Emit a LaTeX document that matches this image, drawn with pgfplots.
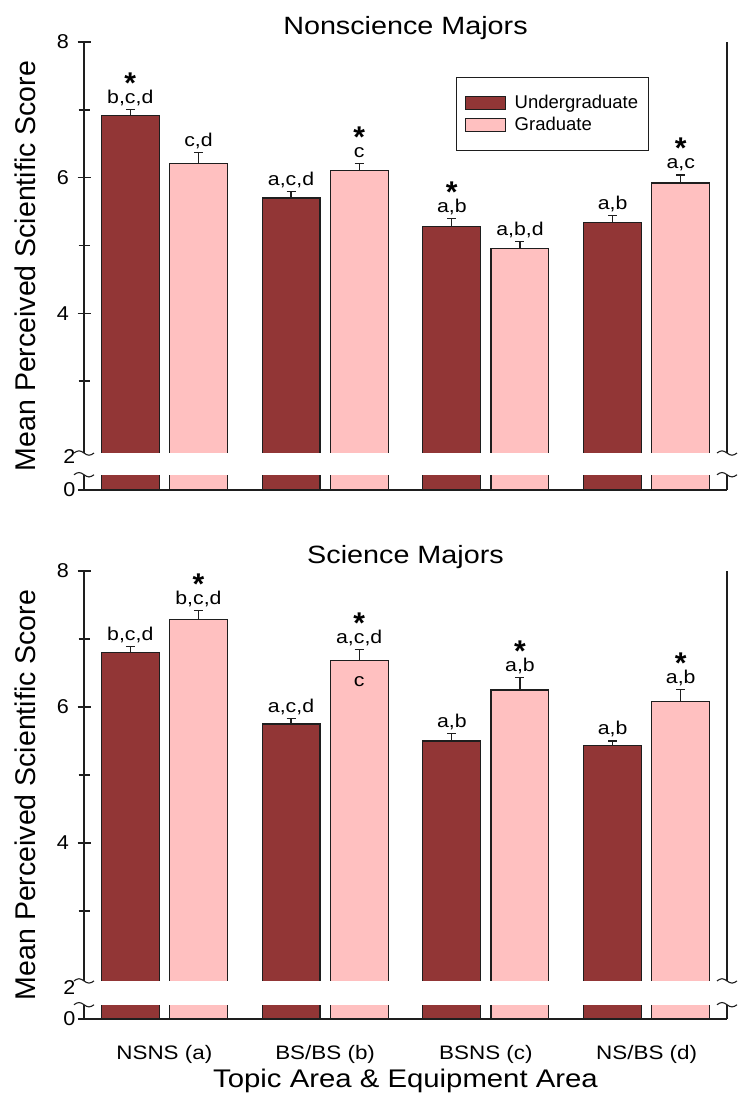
\documentclass[border=0pt]{standalone}
\usepackage{fontspec}
\setmainfont{Liberation Sans}
\newfontfamily\wfa{Liberation Sans}[FakeStretch=1.15]
\newfontfamily\wfb{Liberation Sans}[FakeStretch=1.08]
\usepackage{pgfplots}
\usepackage{pgfplotstable}
\pgfplotsset{compat=1.18}
\definecolor{ucol}{RGB}{146,54,54}
\definecolor{gcol}{RGB}{255,192,192}
\definecolor{edge}{RGB}{30,30,30}

\pgfplotstableread{
x U Ue G Ge Ul Gl
0 6.92 0.09 6.21 0.16 b,c,d c,d
1 5.70 0.10 6.11 0.10 a,c,d c
2 5.28 0.12 4.96 0.10 a,b a,b,d
3 5.34 0.10 5.92 0.12 a,b a,c
}\topdata
\pgfplotstableread{
x U Ue G Ge Ul Gl
0 6.80 0.09 7.29 0.13 b,c,d b,c,d
1 5.75 0.08 6.68 0.16 a,c,d a,c,d
2 5.50 0.11 6.25 0.18 a,b a,b
3 5.43 0.07 6.08 0.18 a,b a,b
}\botdata

\newcommand\labfont{\wfa\fontsize{18.5}{22}\selectfont}
\newcommand\starfont{\bfseries\fontsize{30}{32}\selectfont}

\pgfplotsset{
  panel/.style={
    width=643pt, height=448pt, scale only axis,
    xmin=-0.5, xmax=3.5, ymax=8,
    axis x line*=bottom, axis y line*=left,
    axis line style={edge, line width=1.5pt},
    xtick={0,1,2,3},
    ytick={4,6,8}, minor ytick={3,5,7},
    tick align=center, major tick length=13pt, minor tick length=11pt,
    tick style={edge, line width=1.5pt},
    xtick style={draw=none},
    extra y tick style={major tick length=0pt},
    /pgf/number format/assume math mode=true,
    yticklabel style={font=\wfb\fontsize{20}{24}\selectfont, xshift=-5pt},
    xticklabel style={font=\wfa\fontsize{19.5}{23}\selectfont, anchor=base, yshift=-34pt},
    title style={font=\wfa\fontsize{25}{30}\selectfont, anchor=base, yshift=1pt},
    ylabel={Mean Perceived Scientific Score},
    ylabel style={font=\fontsize{28.5}{34}\selectfont, at={(axis description cs:-0.0762,0.5)}, anchor=base},
  },
  ubar/.style={ybar, bar width=0.36, bar shift=-0.212, fill=ucol, draw=edge, line width=1.2pt},
  gbar/.style={ybar, bar width=0.36, bar shift=0.212, fill=gcol, draw=edge, line width=1.2pt},
  errs/.style={draw=none, mark=none, forget plot,
    error bars/.cd, y dir=plus, y explicit, error bar style={draw=edge, line width=1.2pt},
    error mark options={rotate=90, draw=edge, line width=1.2pt, mark size=4.5pt}},
  labs/.style={draw=none, forget plot, point meta=explicit symbolic, nodes near coords,
    every node near coord/.append style={anchor=base, yshift=6pt, font=\labfont, inner sep=0pt, text=black}},
  stars/.style={draw=none, forget plot, nodes near coords={*},
    every node near coord/.append style={anchor=base, yshift=16pt, font=\starfont, inner sep=0pt, text=black}},
}
\newcommand\squig[1]{\draw[edge, line width=1.1pt] ([xshift=-10pt]#1) sin ++(5pt,2.2pt) cos ++(5pt,-2.2pt) sin ++(5pt,-2.2pt) cos ++(5pt,2.2pt);}

\begin{document}
\begin{tikzpicture}
\useasboundingbox (0,0) rectangle (737pt,1095pt);

% ---------- top panel ----------
\begin{axis}[panel, at={(84pt,605pt)}, ymin=1.395, title={Nonscience Majors},
  extra y ticks={1.40,1.89}, extra y tick labels={0,2},
  xticklabels={},
  legend style={at={(0.5786,0.922)}, anchor=north west, draw=edge, line width=1pt,
    font=\fontsize{18.5}{22}\selectfont, inner xsep=8pt, inner ysep=16pt, row sep=3pt,
    cells={anchor=west}, /tikz/every odd column/.append style={column sep=7pt}},
  legend image code/.code={\draw[#1] (0pt,-6.5pt) rectangle (40pt,6.5pt);}]
\addplot[ubar] table[x=x, y=U]{\topdata};
\addlegendentry{Undergraduate}
\addplot[gbar] table[x=x, y=G]{\topdata};
\addlegendentry{Graduate}
\addplot[errs] table[x expr=\thisrow{x}-0.212, y=U, y error=Ue]{\topdata};
\addplot[errs] table[x expr=\thisrow{x}+0.212, y=G, y error=Ge]{\topdata};
\addplot[labs] table[x expr=\thisrow{x}-0.212, y expr=\thisrow{U}+\thisrow{Ue}, meta=Ul]{\topdata};
\addplot[labs] table[x expr=\thisrow{x}+0.212, y expr=\thisrow{G}+\thisrow{Ge}, meta=Gl]{\topdata};
\addplot[stars] coordinates {(-0.212,7.01) (1.212,6.21) (1.788,5.40) (3.212,6.04)};
\coordinate (tA) at (axis cs:-0.5,1.94);
\coordinate (tB) at (axis cs:3.5,1.62);
\coordinate (tLL) at (rel axis cs:0,0);
\coordinate (tLR) at (rel axis cs:1,0);
\coordinate (tUR) at (rel axis cs:1,1);
\end{axis}
\draw[edge, line width=1.5pt] (tLR) -- (tUR);
\draw[edge, line width=1.5pt] ([xshift=-6pt]tLL) -- (tLL);
\fill[white] ([xshift=-10pt]tA) rectangle ([xshift=12pt]tB);
\squig{tA} \squig{tA |- tB} \squig{tB |- tA} \squig{tB}

% ---------- bottom panel ----------
\begin{axis}[panel, at={(84pt,76pt)}, ymin=1.41, title={Science Majors},
  extra y ticks={1.415,1.88}, extra y tick labels={0,2},
  xticklabels={NSNS (a), BS/BS (b), BSNS (c), NS/BS (d)},
  xlabel={Topic Area \& Equipment Area},
  xlabel style={font=\wfa\fontsize{25.5}{30}\selectfont, at={(axis description cs:0.5,0)}, anchor=base, yshift=-68pt}]
\addplot[ubar] table[x=x, y=U]{\botdata};
\addplot[gbar] table[x=x, y=G]{\botdata};
\addplot[errs] table[x expr=\thisrow{x}-0.212, y=U, y error=Ue]{\botdata};
\addplot[errs] table[x expr=\thisrow{x}+0.212, y=G, y error=Ge]{\botdata};
\addplot[labs] table[x expr=\thisrow{x}-0.212, y expr=\thisrow{U}+\thisrow{Ue}, meta=Ul]{\botdata};
\addplot[labs] table[x expr=\thisrow{x}+0.212, y expr=\thisrow{G}+\thisrow{Ge}, meta=Gl]{\botdata};
\addplot[stars] coordinates {(0.212,7.42) (1.212,6.84) (2.212,6.43) (3.212,6.26)};
\addplot[draw=none, forget plot, nodes near coords={c},
  every node near coord/.append style={anchor=base, yshift=-26pt, font=\labfont, inner sep=0pt, text=black}]
  coordinates {(1.212,6.68)};
\coordinate (bA) at (axis cs:-0.5,1.97);
\coordinate (bB) at (axis cs:3.5,1.62);
\coordinate (bLL) at (rel axis cs:0,0);
\coordinate (bLR) at (rel axis cs:1,0);
\coordinate (bUR) at (rel axis cs:1,1);
\end{axis}
\draw[edge, line width=1.5pt] (bLR) -- (bUR);
\draw[edge, line width=1.5pt] ([xshift=-6pt]bLL) -- (bLL);
\fill[white] ([xshift=-10pt]bA) rectangle ([xshift=12pt]bB);
\squig{bA} \squig{bA |- bB} \squig{bB |- bA} \squig{bB}
\end{tikzpicture}
\end{document}
